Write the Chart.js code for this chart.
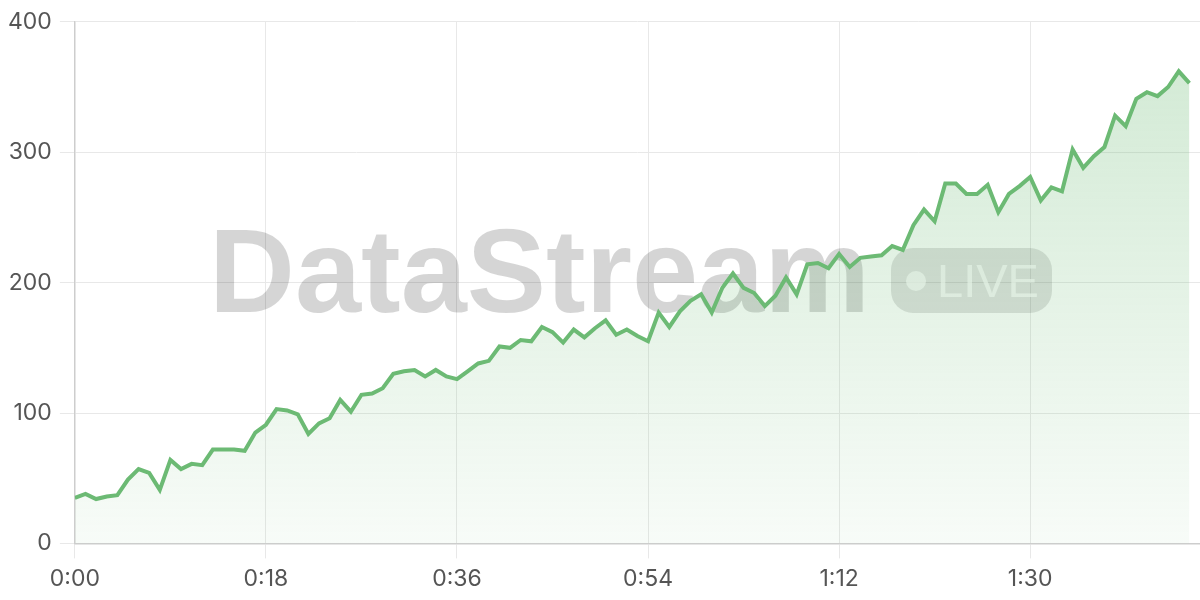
<!DOCTYPE html>
<html lang="en">
<head>
    <meta charset="UTF-8">
    <title>DataStream Live</title>
    <script src="https://cdn.jsdelivr.net/npm/chart.js"></script>
    <style>
        html, body { margin: 0; padding: 0; background: #fff; }
        .chart-container { width: 1200px; height: 600px; }
    </style>
</head>
<body>
    <div class="chart-container">
        <canvas id="streamChart"></canvas>
    </div>

    <script>
        // one reading per second, 0:00 .. 1:45
        const seconds = [
            0, 1, 2, 3, 4, 5, 6, 7, 8, 9, 10, 11, 12, 13, 14, 15, 16, 17, 18, 19,
            20, 21, 22, 23, 24, 25, 26, 27, 28, 29, 30, 31, 32, 33, 34, 35, 36, 37, 38, 39,
            40, 41, 42, 43, 44, 45, 46, 47, 48, 49, 50, 51, 52, 53, 54, 55, 56, 57, 58, 59,
            60, 61, 62, 63, 64, 65, 66, 67, 68, 69, 70, 71, 72, 73, 74, 75, 76, 77, 78, 79,
            80, 81, 82, 83, 84, 85, 86, 87, 88, 89, 90, 91, 92, 93, 94, 95, 96, 97, 98, 99,
            100, 101, 102, 103, 104, 105
        ];
        const values = [
            35, 38, 34, 36, 37, 49, 57, 54, 41, 64, 57, 61, 60, 72, 72, 72, 71, 85, 91, 103,
            102, 99, 84, 92, 96, 110, 101, 114, 115, 119, 130, 132, 133, 128, 133, 128, 126, 132, 138, 140,
            151, 150, 156, 155, 166, 162, 154, 164, 158, 165, 171, 160, 164, 159, 155, 177, 166, 178, 186, 191,
            177, 196, 207, 196, 192, 182, 190, 204, 191, 214, 215, 211, 222, 212, 219, 220, 221, 228, 225, 244,
            256, 247, 276, 276, 268, 268, 275, 254, 268, 274, 281, 263, 273, 270, 302, 288, 297, 304, 328, 320,
            341, 346, 343, 350, 362, 353
        ];
        const tickSeconds = [0, 18, 36, 54, 72, 90];
        const tickLabels = ['0:00', '0:18', '0:36', '0:54', '1:12', '1:30'];

        const lineColor = 'rgb(108, 186, 116)';

        const watermark = {
            id: 'watermark',
            beforeDatasetsDraw(chart) {
                const c = chart.ctx;
                c.save();
                c.font = 'bold 118px "Liberation Sans", Arial, sans-serif';
                c.textBaseline = 'alphabetic';
                c.fillStyle = 'rgba(0, 0, 0, 0.165)';
                // stretch the word so it spans the same width as the original
                const w = c.measureText('DataStream').width;
                c.translate(209, 312);
                c.scale(661 / w, 1);
                c.fillText('DataStream', 0, 0);
                c.setTransform(1, 0, 0, 1, 0, 0);

                c.fillStyle = 'rgba(0, 0, 0, 0.12)';
                c.beginPath();
                c.roundRect(891, 248, 161, 65, 22);
                c.fill();

                c.fillStyle = 'rgba(255, 255, 255, 0.7)';
                c.beginPath();
                c.arc(916, 281, 10, 0, Math.PI * 2);
                c.fill();
                c.font = '47px "Liberation Sans", Arial, sans-serif';
                c.fillText('LIVE', 937, 297);
                c.restore();
            }
        };

        const ctx = document.getElementById('streamChart').getContext('2d');

        new Chart(ctx, {
            type: 'line',
            data: {
                datasets: [{
                    data: seconds.map((s, i) => ({ x: s, y: values[i] })),
                    borderColor: lineColor,
                    borderWidth: 4,
                    pointRadius: 0,
                    tension: 0,
                    fill: 'origin',
                    backgroundColor: (context) => {
                        const area = context.chart.chartArea;
                        if (!area) return 'rgba(108, 186, 116, 0.15)';
                        const g = context.chart.ctx.createLinearGradient(0, area.top, 0, area.bottom);
                        g.addColorStop(0, 'rgba(108, 186, 116, 0.32)');
                        g.addColorStop(1, 'rgba(108, 186, 116, 0.05)');
                        return g;
                    }
                }]
            },
            options: {
                responsive: true,
                maintainAspectRatio: false,
                animation: false,
                layout: { padding: { left: 0, top: 3, right: 0, bottom: 0 } },
                plugins: {
                    legend: { display: false },
                    tooltip: { enabled: false }
                },
                scales: {
                    x: {
                        type: 'linear',
                        min: 0,
                        max: 106,
                        afterBuildTicks: (scale) => {
                            scale.ticks = tickSeconds.map(v => ({ value: v }));
                        },
                        ticks: {
                            color: '#555',
                            font: { family: 'Inter', size: 23 },
                            padding: 7,
                            maxRotation: 0,
                            callback: (value, index) => tickLabels[index]
                        },
                        grid: { color: '#e8e8e8', tickLength: 15 },
                        border: { color: '#cdcdcd', width: 1.5 }
                    },
                    y: {
                        min: 0,
                        max: 400,
                        ticks: {
                            stepSize: 100,
                            color: '#555',
                            font: { family: 'Inter', size: 23 },
                            padding: 8
                        },
                        grid: { color: '#e8e8e8', tickLength: 15 },
                        border: { color: '#cdcdcd', width: 1.5 }
                    }
                }
            },
            plugins: [watermark]
        });
    </script>
</body>
</html>
